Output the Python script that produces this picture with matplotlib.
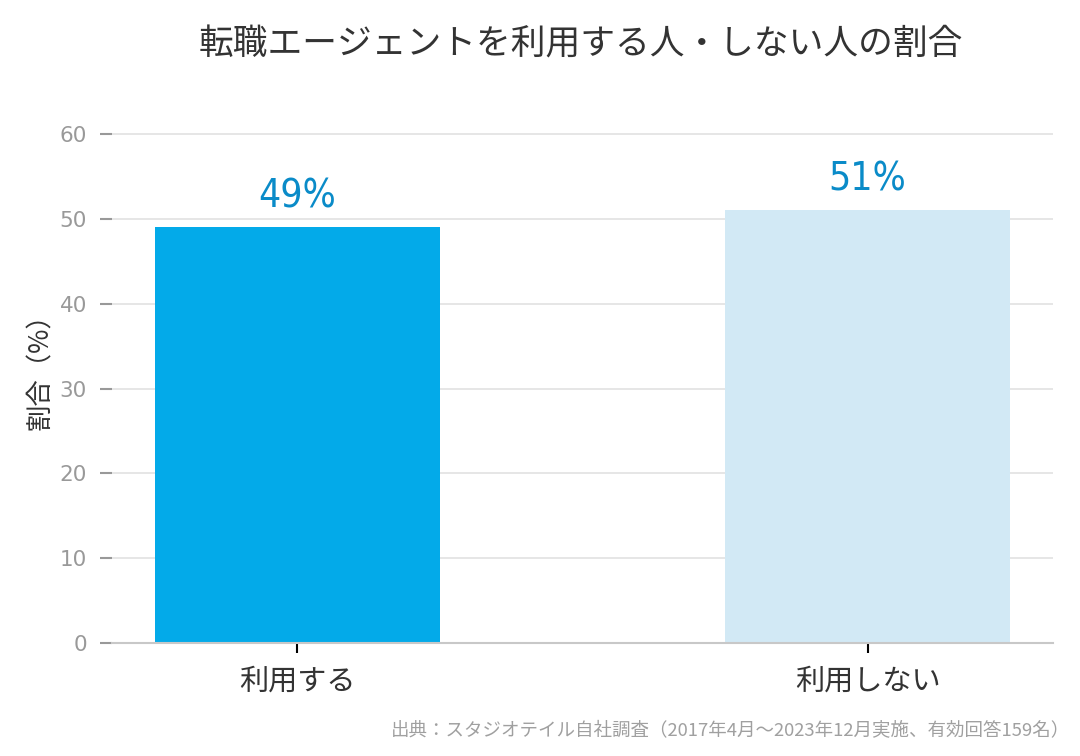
import numpy as np
import matplotlib.pyplot as plt

plt.rcParams['font.family'] = ['Noto Sans CJK JP', 'DejaVu Sans']

## data
categories = ["利用する", "利用しない"]
shares = [49, 51]  # %
bar_colors = ["#03aae9", "#d2e9f5"]

title = "転職エージェントを利用する人・しない人の割合"
source = "出典：スタジオテイル自社調査（2017年4月～2023年12月実施、有効回答159名）"

fig = plt.figure(figsize=(10.8, 7.56), dpi=100)
# 0 at y=643px, 60 at y=134px, ylim up to 64
ax = fig.add_axes([112 / 1080, 1 - 643 / 756, 941 / 1080, (64 * 509 / 60) / 756])

x = np.arange(len(categories))
ax.bar(x, shares, width=0.5, color=bar_colors, zorder=2)

# value labels above bars
for xi, v in zip(x, shares):
    ax.text(xi, v + 1.4, f"{v}%", ha="center", va="bottom", fontsize=28,
            color="#0a8bc8", family=["DejaVu Sans"], fontstretch="condensed")

ax.set_xlim(-0.325, 1.325)
ax.set_ylim(0, 64)
ax.set_yticks(np.arange(0, 61, 10))
ax.set_xticks(x)
ax.set_xticklabels(categories, fontsize=21, color="#333333")
ax.tick_params(axis="y", labelsize=15.5, labelcolor="#999999", color="#999999",
               length=9, width=1.5, pad=9)
ax.tick_params(axis="x", color="black", length=7, width=1.5, pad=10)
for lbl in ax.get_yticklabels():
    lbl.set_family(["DejaVu Sans"])

ax.grid(axis="y", color="#e2e2e2", linewidth=1.2, zorder=0)
for side in ["left", "right", "top"]:
    ax.spines[side].set_visible(False)
ax.spines["bottom"].set_color("#c8c8c8")
ax.spines["bottom"].set_linewidth(1.5)

ax.set_ylabel("割合（%）", fontsize=19, color="#333333")
ax.yaxis.set_label_coords(-58 / 941, 0.5 + 6 / 543)

fig.text(581 / 1080, 1 - 45 / 756, title, ha="center", va="center",
         fontsize=25, color="#333333")
fig.text(1070 / 1080, 1 - 731 / 756, source, ha="right", va="center",
         fontsize=13.3, color="#a0a0a0")

fig.savefig("out.png", dpi=100)
